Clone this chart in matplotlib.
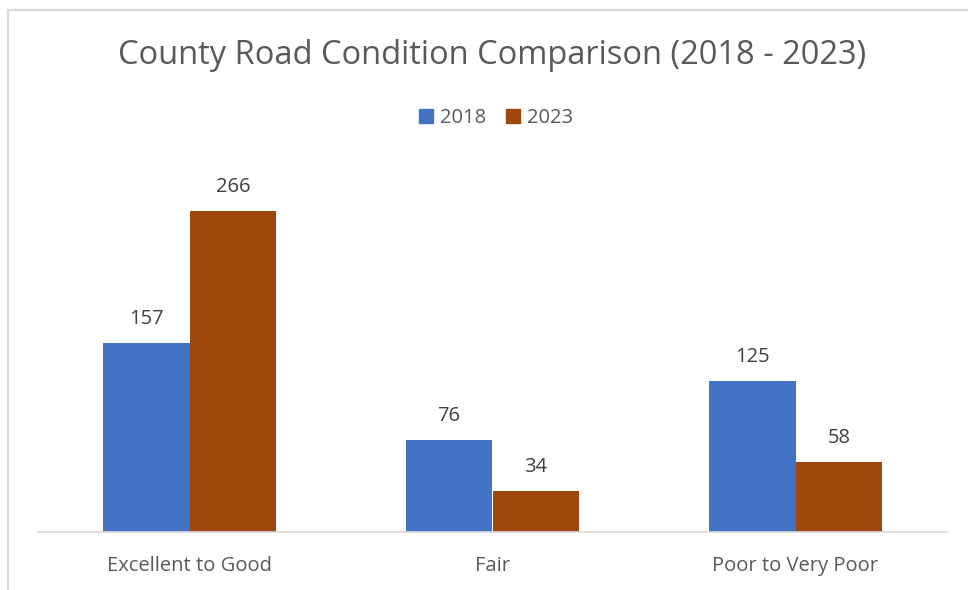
"""County road condition comparison bar chart (2018 vs 2023)."""

import matplotlib.pyplot as plt
import numpy as np
from matplotlib.lines import Line2D
from matplotlib.patches import Patch

categories = ["Excellent to Good", "Fair", "Poor to Very Poor"]
series_names = ["2018", "2023"]
values_2018 = [157, 76, 125]
values_2023 = [266, 34, 58]

BLUE = "#4472C4"
RUST = "#9E480E"
TEXT = "#595959"
LABEL = "#404040"

plt.rcParams["font.family"] = ["Open Sans", "DejaVu Sans"]

fig = plt.figure(figsize=(9.68, 5.90), dpi=100)
W, H = 968, 590

# light chart border (left and top visible in the reference)
fig.add_artist(Line2D([8 / W, 8 / W], [0, 1 - 10 / H], color="#D9D9D9", lw=1.5))
fig.add_artist(Line2D([8 / W, 1], [1 - 10 / H, 1 - 10 / H], color="#D9D9D9", lw=1.5))

left, right = 38 / W, 947 / W
bottom, top = 1 - 532 / H, 1 - 170 / H
ax = fig.add_axes([left, bottom, right - left, top - bottom])

x = np.arange(len(categories))
width = 0.287
bars_a = ax.bar(x - width / 2, values_2018, width, color=BLUE)
bars_b = ax.bar(x + width / 2, values_2023, width, color=RUST)

for bars in (bars_a, bars_b):
    ax.bar_label(bars, padding=10, fontsize=14.5, color=LABEL)

ax.set_xlim(-0.5, len(categories) - 0.5)
ax.set_ylim(0, 300)
ax.set_yticks([])
ax.set_xticks(x)
ax.set_xticklabels(categories, fontsize=14.5, color=TEXT)
ax.tick_params(axis="x", length=0, pad=17)
for side in ("top", "right", "left"):
    ax.spines[side].set_visible(False)
ax.spines["bottom"].set_color("#D9D9D9")
ax.spines["bottom"].set_linewidth(1.2)

fig.text(492 / W, 1 - 56 / H, "County Road Condition Comparison (2018 - 2023)",
         ha="center", va="center", fontsize=23.5, color=TEXT)

handles = [Patch(color=BLUE), Patch(color=RUST)]
fig.legend(handles, series_names, loc="center", bbox_to_anchor=(496 / W, 1 - 118 / H),
           ncol=2, frameon=False, fontsize=14.5, labelcolor=TEXT,
           handlelength=0.7, handleheight=0.7, handletextpad=0.35, columnspacing=1.0)

fig.savefig("out.png", dpi=100)
